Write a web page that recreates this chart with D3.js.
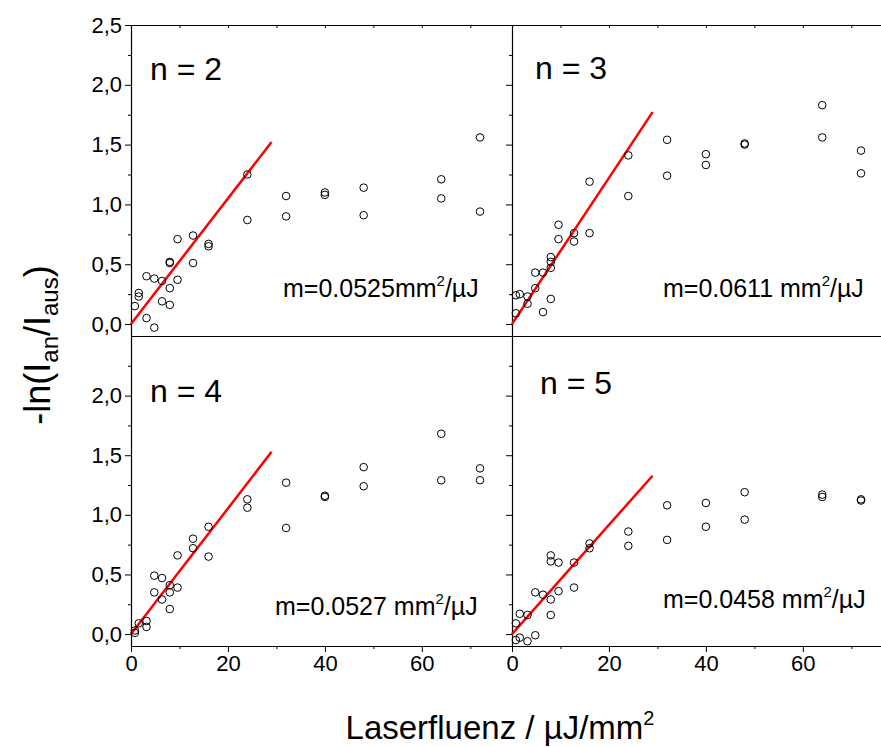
<!doctype html>
<html>
<head>
<script src="https://cdn.jsdelivr.net/npm/d3@7"></script>
<style>
  body { margin: 0; background: #fff; }
  text { font-family: "Liberation Sans", Arial, sans-serif; fill: #000; }
</style>
</head>
<body>
<svg width="881" height="747"></svg>
<script>
// fluence (µJ/mm²) and -ln(Ian/Iaus) for each panel
var fluenceN2 = [0.8,1.6,1.6,3.2,3.2,4.8,4.8,6.4,6.4,8,8,8,8,9.6,9.6,12.8,12.8,16,16,24,24,32,32,40,40,48,48,64,64,72,72];
var valueN2   = [0.15,0.26,0.23,0.05,0.40,-0.03,0.38,0.36,0.19,0.52,0.51,0.30,0.16,0.71,0.37,0.74,0.51,0.67,0.65,1.25,0.87,1.07,0.90,1.10,1.08,1.14,0.91,1.21,1.05,1.56,0.94];

var fluenceN3 = [0.8,0.8,1.6,3.2,3.2,4.8,4.8,6.4,6.4,8,8,8,8,9.6,9.6,12.8,12.8,16,16,24,24,32,32,40,40,48,48,64,64,72,72];
var valueN3   = [0.24,0.09,0.25,0.23,0.17,0.30,0.43,0.43,0.10,0.56,0.52,0.47,0.21,0.83,0.71,0.76,0.69,1.19,0.76,1.41,1.07,1.54,1.24,1.42,1.33,1.50,1.51,1.83,1.56,1.45,1.26];

var fluenceN4 = [0.8,0.8,1.6,3.2,3.2,4.8,4.8,6.4,6.4,8,8,8,9.6,9.6,12.8,12.8,16,16,24,24,32,32,40,40,48,48,64,64,72,72];
var valueN4   = [0.01,0.03,0.09,0.11,0.06,0.49,0.35,0.47,0.29,0.41,0.35,0.21,0.39,0.66,0.80,0.72,0.90,0.65,1.13,1.06,1.27,0.89,1.16,1.15,1.40,1.24,1.68,1.29,1.39,1.29];

var fluenceN5 = [0.8,0.8,1.6,1.6,3.2,3.2,4.8,4.8,6.4,8,8,8,8,9.6,9.6,12.8,12.8,16,16,24,24,32,32,40,40,48,48,64,64,72,72];
var valueN5   = [-0.05,0.09,-0.03,0.17,-0.06,0.16,-0.01,0.35,0.33,0.66,0.61,0.29,0.16,0.60,0.36,0.60,0.39,0.76,0.72,0.86,0.74,1.08,0.79,1.10,0.90,1.19,0.96,1.17,1.15,1.13,1.12];

var panelNames = ["n = 2", "n = 3", "n = 4", "n = 5"];
var slopes = [0.0525, 0.0611, 0.0527, 0.0458];
var slopeText = ["m=0.0525mm", "m=0.0611 mm", "m=0.0527 mm", "m=0.0458 mm"];
var fitEnd = 29;

var xTicks = [0, 20, 40, 60];
var xMinor = [10, 30, 50, 70];
var yTicks = [0, 0.5, 1.0, 1.5, 2.0, 2.5];
var yMinor = [0.25, 0.75, 1.25, 1.75, 2.25];

var svg = d3.select("svg");
var comma = d => d3.format(".1f")(d).replace(".", ",");

var colLeft = [131, 512], colRight = [512, 893];
var rowTop = [336, 25], rowBottom = [646, 336];

var panels = [
  {fx: fluenceN2, fy: valueN2, xr: colLeft,  yr: rowTop,    lab: [150, 80],  note: [283, 297]},
  {fx: fluenceN3, fy: valueN3, xr: colRight, yr: rowTop,    lab: [535, 79],  note: [663, 297]},
  {fx: fluenceN4, fy: valueN4, xr: colLeft,  yr: rowBottom, lab: [150, 402], note: [275, 615]},
  {fx: fluenceN5, fy: valueN5, xr: colRight, yr: rowBottom, lab: [540, 394], note: [663, 608]}
];

panels.forEach((p, i) => {
  var x = d3.scaleLinear().domain([0, 78.6]).range(p.xr);
  var y = d3.scaleLinear().domain([-0.1, 2.5]).range(p.yr);
  var left = i % 2 === 0;
  var top = i < 2;

  // y axis
  svg.append("g").attr("transform", "translate(" + p.xr[0] + ",0)")
    .call(d3.axisLeft(y).tickValues(top ? yTicks : yTicks.slice(0, 5)).tickSize(6).tickSizeOuter(0)
      .tickFormat(left ? comma : ""));
  svg.append("g").attr("transform", "translate(" + p.xr[0] + ",0)")
    .call(d3.axisLeft(y).tickValues(yMinor).tickSize(3).tickSizeOuter(0).tickFormat(""))
    .select(".domain").remove();

  if (top) {
    // top frame with inward ticks
    svg.append("g").attr("transform", "translate(0," + p.yr[1] + ")")
      .call(d3.axisBottom(x).tickValues(xTicks.concat(xMinor)).tickSize(3).tickSizeOuter(0).tickFormat(""));
    // divider between the rows
    svg.append("line").attr("x1", p.xr[0]).attr("x2", p.xr[1])
      .attr("y1", p.yr[0] + 0.5).attr("y2", p.yr[0] + 0.5).attr("stroke", "#000").attr("stroke-width", 1.2);
  } else {
    svg.append("g").attr("transform", "translate(0," + p.yr[0] + ")")
      .call(d3.axisBottom(x).tickValues(xTicks).tickSize(6).tickSizeOuter(0).tickFormat(d3.format("d")));
    svg.append("g").attr("transform", "translate(0," + p.yr[0] + ")")
      .call(d3.axisBottom(x).tickValues(xMinor).tickSize(3).tickSizeOuter(0).tickFormat(""))
      .select(".domain").remove();
  }

  // fit line
  svg.append("line")
    .attr("x1", x(0)).attr("y1", y(0))
    .attr("x2", x(fitEnd)).attr("y2", y(slopes[i] * fitEnd))
    .attr("stroke", "#ff0000").attr("stroke-width", 2.5);

  // points
  svg.append("g").selectAll("circle")
    .data(p.fx.map((f, k) => [f, p.fy[k]]))
    .enter().append("circle")
    .attr("cx", d => x(d[0])).attr("cy", d => y(d[1]))
    .attr("r", 3.8).attr("fill", "none").attr("stroke", "#000").attr("stroke-width", 1);

  svg.append("text").attr("x", p.lab[0]).attr("y", p.lab[1])
    .attr("font-size", 32).text(panelNames[i]);

  var t = svg.append("text").attr("x", p.note[0]).attr("y", p.note[1]).attr("font-size", 25);
  t.append("tspan").text(slopeText[i]);
  t.append("tspan").attr("dy", -11).attr("font-size", 15).text("2");
  t.append("tspan").attr("dy", 11).text("/\u00b5J");
});

svg.selectAll(".domain").attr("stroke-width", 1.2);
svg.selectAll(".tick line").attr("stroke-width", 1);
svg.selectAll(".tick text").attr("font-size", 22).style("font-family", "Liberation Sans, Arial, sans-serif");

// axis titles
var xt = svg.append("text").attr("x", 500).attr("y", 739).attr("text-anchor", "middle").attr("font-size", 33);
xt.append("tspan").text("Laserfluenz / \u00b5J/mm");
xt.append("tspan").attr("dy", -14).attr("font-size", 20).text("2");

var yt = svg.append("text").attr("transform", "translate(50,345) rotate(-90)")
  .attr("text-anchor", "middle").attr("font-size", 36);
yt.append("tspan").text("-ln(I");
yt.append("tspan").attr("dy", 8).attr("font-size", 24).text("an");
yt.append("tspan").attr("dy", -8).text("/I");
yt.append("tspan").attr("dy", 8).attr("font-size", 24).text("aus");
yt.append("tspan").attr("dy", -8).text(")");
</script>
</body>
</html>
